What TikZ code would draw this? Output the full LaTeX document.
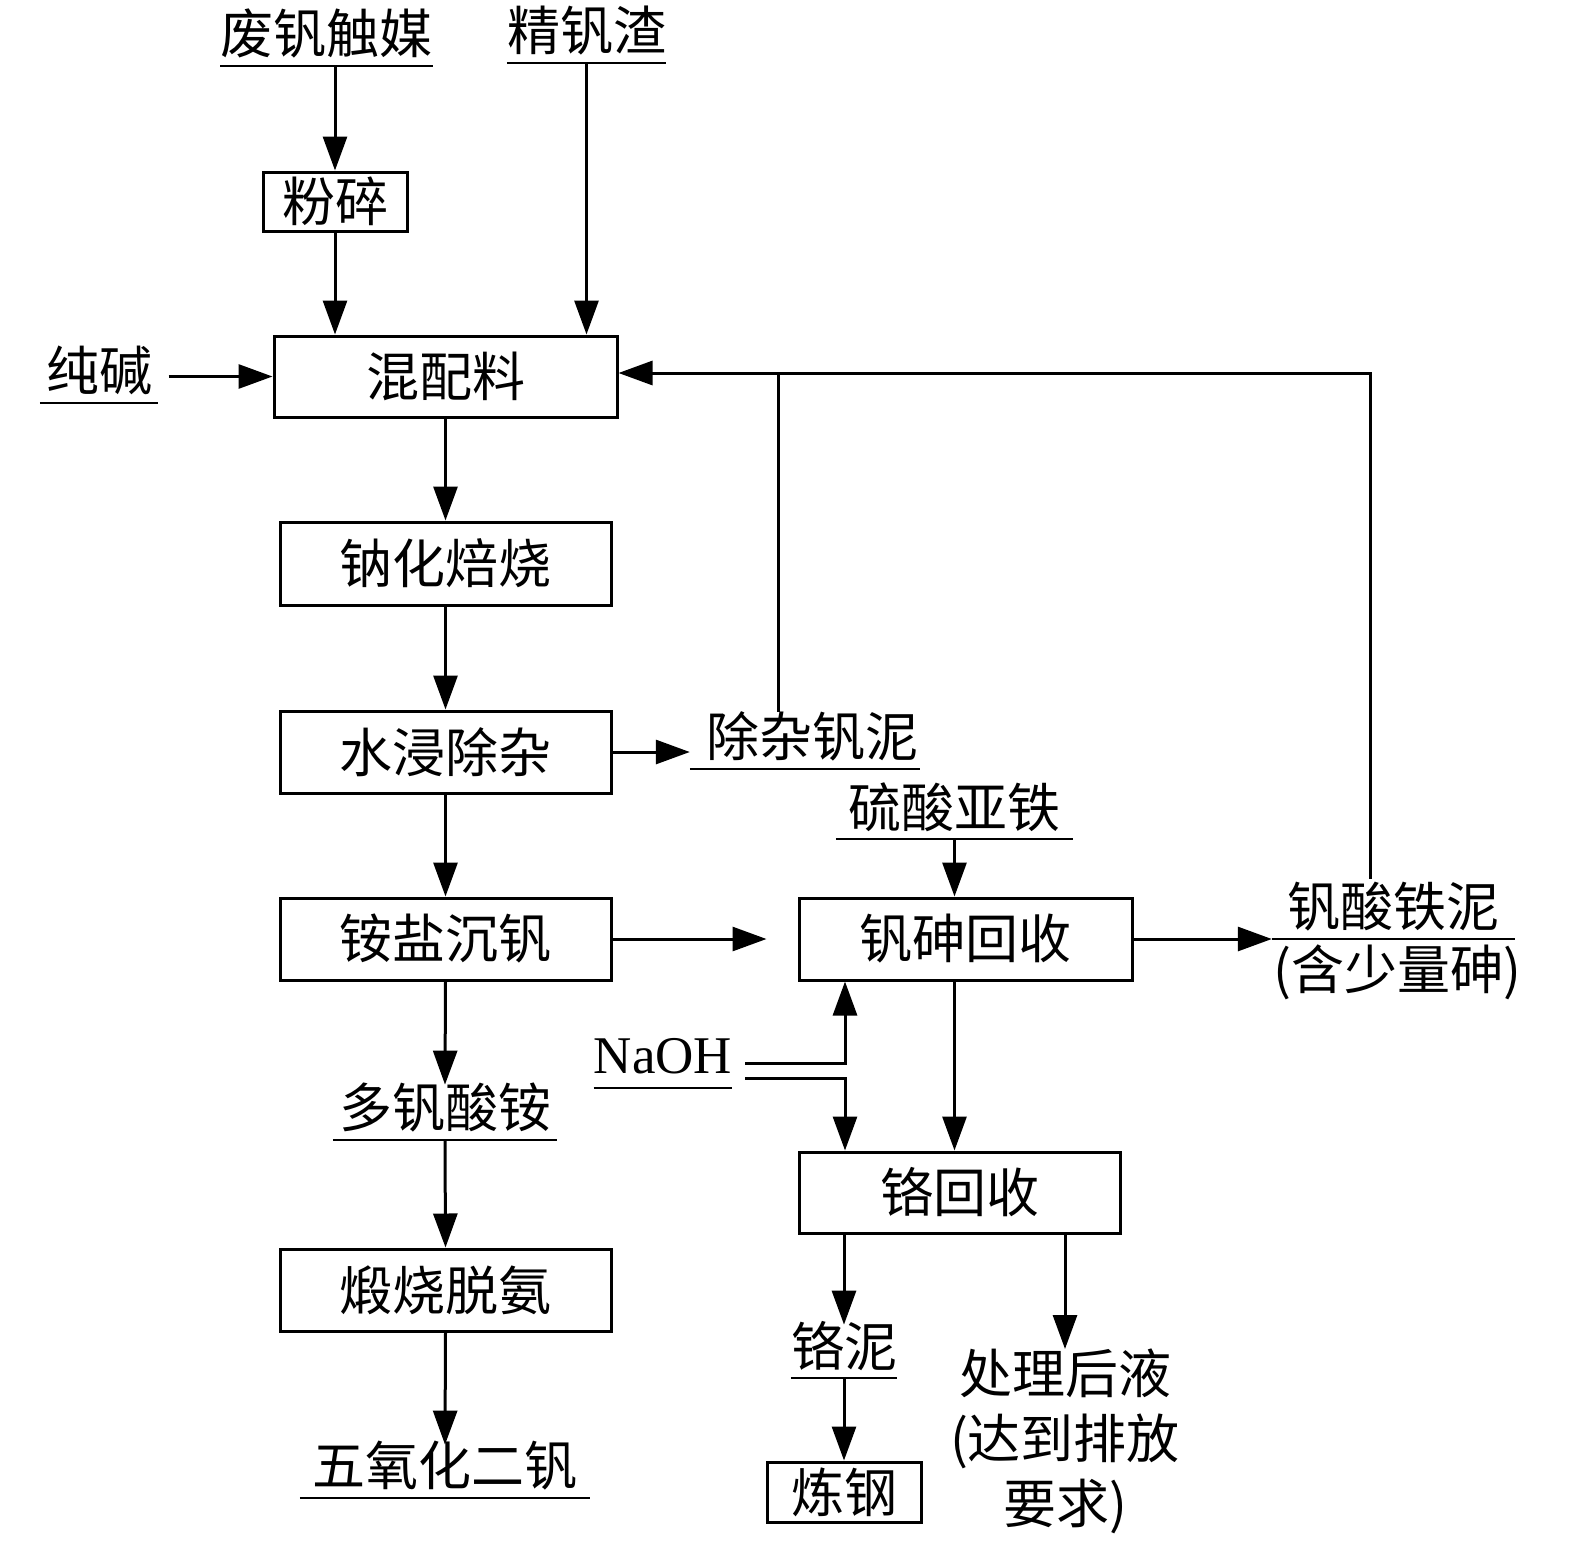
\documentclass[tikz,border=0pt]{standalone}
\usepackage{fontspec}
\setmainfont{Noto Sans CJK SC}
\newfontfamily\tnr{Liberation Serif}
\usetikzlibrary{arrows.meta,calc}
\tikzset{
  box/.style={draw, line width=3pt, inner sep=0pt, font=\fontsize{53}{60}\selectfont},
  ul/.style={inner sep=0pt, minimum height=64pt, anchor=south, font=\fontsize{53}{60}\selectfont},
  arr/.style={line width=3pt, -{Triangle[length=34pt,width=24pt]}},
  ln/.style={line width=3pt},
  uline/.style={line width=2.2pt},
}
\begin{document}
\begin{tikzpicture}[x=1pt,y=-1pt]
\useasboundingbox (0,0) rectangle (1575,1553);
% boxes
\node[box, minimum width=144pt, minimum height=59pt] (fs) at (335,201.5) {粉碎};
\node[box, minimum width=343pt, minimum height=81pt] (hp) at (445.5,376.5) {混配料};
\node[box, minimum width=331pt, minimum height=83pt] (nh) at (445.5,563.5) {钠化焙烧};
\node[box, minimum width=331pt, minimum height=82pt] (sj) at (445.5,752) {水浸除杂};
\node[box, minimum width=331pt, minimum height=82pt] (as) at (445.5,939) {铵盐沉钒};
\node[box, minimum width=331pt, minimum height=82pt] (ds) at (445.5,1290) {煅烧脱氨};
\node[box, minimum width=333pt, minimum height=82pt] (vs) at (965.5,939) {钒砷回收};
\node[box, minimum width=321pt, minimum height=81pt] (cr) at (959.5,1192.5) {铬回收};
\node[box, minimum width=154pt, minimum height=60pt] (lg) at (844,1492) {炼钢};
% underlined labels
\node[ul, minimum width=185pt] (fv) at (326.5,66) {废钒触媒};
\node[ul, minimum width=143pt] (jz) at (586.5,63) {精钒渣};
\node[ul, minimum width=118pt] (cj) at (99,403) {纯碱};
\node[ul, minimum width=230pt] (cz) at (805,769) {\hspace*{14pt}除杂钒泥};
\node[ul, minimum width=237pt] (lsy) at (954.5,839) {硫酸亚铁};
\node[ul, minimum width=130pt] (na) at (663,1088) {\tnr NaOH};
\node[ul, minimum width=224pt] (dv) at (445,1140) {多钒酸铵};
\node[ul, minimum width=290pt] (wy) at (445,1498) {五氧化二钒};
\node[ul, minimum width=98pt] (cn) at (844,1378) {铬泥};
\node[ul, minimum width=243pt] (fe) at (1393.5,939) {钒酸铁泥};
\node[inner sep=0pt, minimum height=60pt, anchor=north, font=\fontsize{53}{60}\selectfont] (fe2) at (1397,942) {(含少量砷)};
\node[inner sep=0pt, anchor=north, align=center, font=\fontsize{53}{65}\selectfont] (cl) at (1065,1349) {处理后液\\(达到排放\\要求)};
\foreach \n in {fv,jz,cj,cz,lsy,na,dv,wy,cn,fe}
  \draw[uline] (\n.south west) -- (\n.south east);
% coordinates
\coordinate (top) at (1370,373);
\coordinate (j) at (778,373);
\coordinate (a1) at (745,1063);
\coordinate (a2) at (745,1078);
\coordinate (n1) at (845,1063);
\coordinate (n2) at (845,1078);
% connectors
\draw[arr] (fs.north |- fv.south) -- (fs.north);
\draw[arr] (fs.south) -- (fs.south |- hp.north);
\draw[arr] (jz.south) -- (jz.south |- hp.north);
\draw[arr] (hp.west) ++(-104,0) -- (hp.west);
\draw[arr] (hp.south) -- (nh.north);
\draw[arr] (nh.south) -- (sj.north);
\draw[arr] (sj.south) -- (as.north);
\draw[arr] (sj.east) -- (sj.east -| cz.west);
\draw[ln] ([yshift=-7pt]j |- cz.north) -- (j);
\draw[arr] ([yshift=-4pt]top |- fe.north) -- (top) -- (top -| hp.east);
\draw[arr] (lsy.south) -- (lsy.south |- vs.north);
\draw[arr] (as.east) -- ++(154,0);
\draw[arr] (vs.east) -- (vs.east -| fe.west);
\draw[arr] (vs.south -| lsy.south) -- (lsy.south |- cr.north);
\draw[arr] (a1) -- (n1) -- (n1 |- vs.south);
\draw[arr] (a2) -- (n2) -- (n2 |- cr.north);
\draw[arr] (as.south) -- ([yshift=-9pt]dv.north);
\draw[arr] (dv.south) -- (ds.north);
\draw[arr] (ds.south) -- ([yshift=-11pt]wy.north);
\draw[arr] (cn.north |- cr.south) -- ([yshift=-11pt]cn.north);
\draw[arr] (cn.south) -- (lg.north);
\draw[arr] (cl.north |- cr.south) -- (cl.north);
\end{tikzpicture}
\end{document}
